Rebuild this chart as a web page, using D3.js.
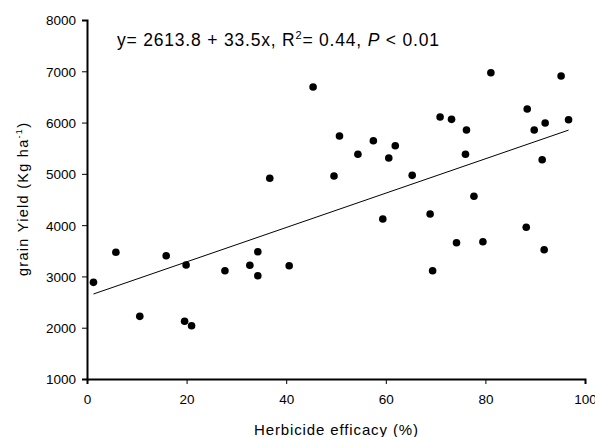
<!DOCTYPE html>
<html><head><meta charset="utf-8">
<script src="https://cdn.jsdelivr.net/npm/d3@7"></script>
<style>body{margin:0;background:#fff}svg{display:block;font-family:"Liberation Sans",Arial,sans-serif}</style>
</head><body><svg id="c" width="595" height="437"></svg>
<script>
const efficacy = [1.3,5.8,10.6,15.9,19.9,19.6,21.0,27.7,45.4,50.7,54.4,36.7,49.6,34.3,32.7,40.6,34.3,57.5,61.9,60.6,70.9,73.2,76.2,76.0,65.3,77.7,59.4,68.9,74.2,69.4,81.1,95.2,88.4,92.0,96.7,89.8,91.4,88.2,79.5,91.8];
const grainYield = [2885,3470,2222,3404,3223,2125,2039,3112,6693,5738,5381,4913,4958,3482,3217,3209,3014,5646,5549,5309,6108,6063,5855,5381,4971,4562,4120,4217,3658,3112,6972,6907,6264,5991,6056,5855,5276,3958,3677,3521];
const xTicks = [0,20,40,60,80,100];
const yTicks = [1000,2000,3000,4000,5000,6000,7000,8000];
const intercept = 2613.8, slope = 33.5;

const svg = d3.select("#c");
const x = d3.scaleLinear().domain([0,100]).range([87,585]);
const y = d3.scaleLinear().domain([1000,8000]).range([379,20]);

// fit text horizontally to a target width via letter-spacing
function fit(sel, target){
  const n = sel.text().length;
  const w = sel.node().getComputedTextLength();
  const ls = (target - w) / Math.max(1, n - 1);
  sel.style("letter-spacing", ls + "px");
}

const xa = svg.append("g").attr("transform","translate(0,379)")
  .call(d3.axisBottom(x).tickValues(xTicks).tickSize(5).tickPadding(10).tickFormat(d3.format("d")));
const ya = svg.append("g").attr("transform","translate(87,0)")
  .call(d3.axisLeft(y).tickValues(yTicks).tickSize(5).tickPadding(6).tickFormat(d3.format("d")));
[xa,ya].forEach(a=>{
  a.select(".domain").attr("stroke","#000").attr("stroke-width",2);
  a.selectAll(".tick line").attr("stroke","#000").attr("stroke-width",1);
  a.selectAll(".tick text").attr("fill","#000").style("font-size","13.5px").style("font-family","Liberation Sans, Arial, sans-serif");
});
xa.selectAll(".tick text").attr("dy",null).attr("y",25);
ya.selectAll(".tick text").attr("dy","0.36em");

const x0 = d3.min(efficacy), x1 = d3.max(efficacy);
svg.append("line")
  .attr("x1",x(x0)).attr("y1",y(intercept+slope*x0))
  .attr("x2",x(x1)).attr("y2",y(intercept+slope*x1))
  .attr("stroke","#000").attr("stroke-width",1);

svg.append("g").selectAll("circle").data(efficacy).join("circle")
  .attr("cx",d=>x(d)).attr("cy",(d,i)=>y(grainYield[i])).attr("r",3.8).attr("fill","#000");

const t = svg.append("text").attr("x",117).attr("y",46).style("font-size","17.5px").attr("fill","#000");
t.append("tspan").text("y= 2613.8 + 33.5x, R");
t.append("tspan").text("2").style("font-size","11px").attr("dy",-7);
t.append("tspan").text("= 0.44, ").attr("dy",7);
t.append("tspan").text("P").style("font-style","italic");
t.append("tspan").text(" < 0.01");
fit(t, 322);

const xl = svg.append("text").attr("x",254).attr("y",435).style("font-size","15px").text("Herbicide efficacy (%)");
fit(xl, 164);

const yl = svg.append("text").attr("transform","translate(28,276) rotate(-90)").style("font-size","14.5px");
yl.append("tspan").text("grain Yield (Kg ha");
yl.append("tspan").text("-1").style("font-size","9px").attr("dy",-6);
yl.append("tspan").text(")").attr("dy",6);
fit(yl, 153);
</script></body></html>
